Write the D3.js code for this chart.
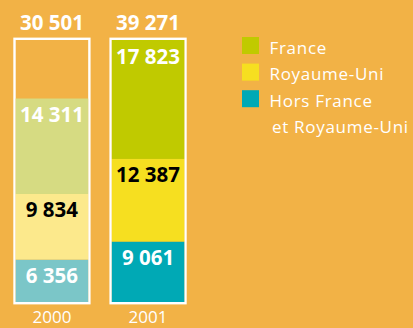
<!DOCTYPE html>
<html>
<head>
<meta charset="utf-8">
<script src="https://cdn.jsdelivr.net/npm/d3@7"></script>
<style>
  html, body { margin: 0; padding: 0; background: #F2B246; }
  svg { display: block; }
</style>
</head>
<body>
<svg id="chart" width="413" height="328"></svg>
<script>
// Effectifs par zone géographique
const years = ["2000", "2001"];
const series = ["Hors France et Royaume-Uni", "Royaume-Uni", "France"];
const horsValues = [6356, 9061];
const ukValues = [9834, 12387];
const franceValues = [14311, 17823];
const totals = [30501, 39271];
const legendLabels = [["France"], ["Royaume-Uni"], ["Hors France", "et Royaume-Uni"]];

// Couleurs : 2000 en teintes claires, 2001 en teintes pleines
const colors = {
  "2000": ["#7BC6C8", "#FCE98C", "#D6DB82"],
  "2001": ["#00A9B5", "#F6DF20", "#C0CA00"]
};
const labelColors = ["#ffffff", "#000000", "#ffffff"];
const legendColors = ["#C0CA00", "#F6DF20", "#00A9B5"];

const svg = d3.select("#chart");
const bg = "#F2B246";

const x = d3.scaleBand().domain(years).range([13.5, 186.5]).paddingInner(0.2).paddingOuter(0);
const y = d3.scaleLinear().domain([0, d3.max(totals)]).range([302, 40]);

const rows = years.map((yr, i) => ({ year: yr, hors: horsValues[i], uk: ukValues[i], france: franceValues[i] }));
const stack = d3.stack().keys(["hors", "uk", "france"]);
const layers = stack(rows);

// Cadre blanc de chaque colonne (hauteur du total maximal)
svg.append("g").selectAll("rect")
  .data(years)
  .join("rect")
  .attr("x", d => x(d) + 1)
  .attr("y", y(d3.max(totals)) - 1.2)
  .attr("width", x.bandwidth() - 2)
  .attr("height", y(0) - y(d3.max(totals)) + 2.4)
  .attr("fill", bg)
  .attr("stroke", "#ffffff")
  .attr("stroke-width", 2.4);

// Segments empilés
const inset = 2.2;
layers.forEach((layer, li) => {
  const g = svg.append("g");
  g.selectAll("rect")
    .data(layer)
    .join("rect")
    .attr("x", d => x(d.data.year) + inset)
    .attr("y", d => y(d[1]))
    .attr("width", x.bandwidth() - inset * 2)
    .attr("height", d => y(d[0]) - y(d[1]))
    .attr("fill", d => colors[d.data.year][li]);

  g.selectAll("text")
    .data(layer)
    .join("text")
    .attr("x", d => x(d.data.year) + x.bandwidth() / 2)
    .attr("y", d => y(d[1]) + 23.5)
    .attr("text-anchor", "middle")
    .attr("font-family", "'Open Sans', sans-serif")
    .attr("font-weight", 700)
    .attr("font-size", 20.5)
    .attr("fill", labelColors[li])
    .text(d => d3.format(",")(d[1] - d[0]).replace(/,/g, " "));
});

// Totaux au-dessus des colonnes
svg.append("g").selectAll("text")
  .data(years)
  .join("text")
  .attr("x", d => x(d) + x.bandwidth() / 2)
  .attr("y", 29.5)
  .attr("text-anchor", "middle")
  .attr("font-family", "'Open Sans', sans-serif")
  .attr("font-weight", 700)
  .attr("font-size", 20.5)
  .attr("fill", "#ffffff")
  .text((d, i) => d3.format(",")(totals[i]).replace(/,/g, " "));

// Années
svg.append("g").selectAll("text")
  .data(years)
  .join("text")
  .attr("x", d => x(d) + x.bandwidth() / 2)
  .attr("y", 323)
  .attr("text-anchor", "middle")
  .attr("font-family", "'Open Sans', sans-serif")
  .attr("font-size", 17)
  .attr("fill", "#ffffff")
  .text(d => d);

// Légende
const legend = svg.append("g").attr("transform", "translate(242,37)");
const lg = legend.selectAll("g")
  .data(legendLabels)
  .join("g")
  .attr("transform", (d, i) => `translate(0,${i * 26.6})`);
lg.append("rect")
  .attr("width", 17)
  .attr("height", 17)
  .attr("fill", (d, i) => legendColors[i]);
lg.each(function(lines) {
  const g = d3.select(this);
  lines.forEach((t, j) => {
    g.append("text")
      .attr("x", j === 0 ? 27.5 : 30)
      .attr("y", 16.5 + j * 26.6)
      .attr("font-family", "'Open Sans', sans-serif")
      .attr("font-size", 17)
      .attr("letter-spacing", 0.7)
      .attr("fill", "#ffffff")
      .text(t);
  });
});
</script>
</body>
</html>
